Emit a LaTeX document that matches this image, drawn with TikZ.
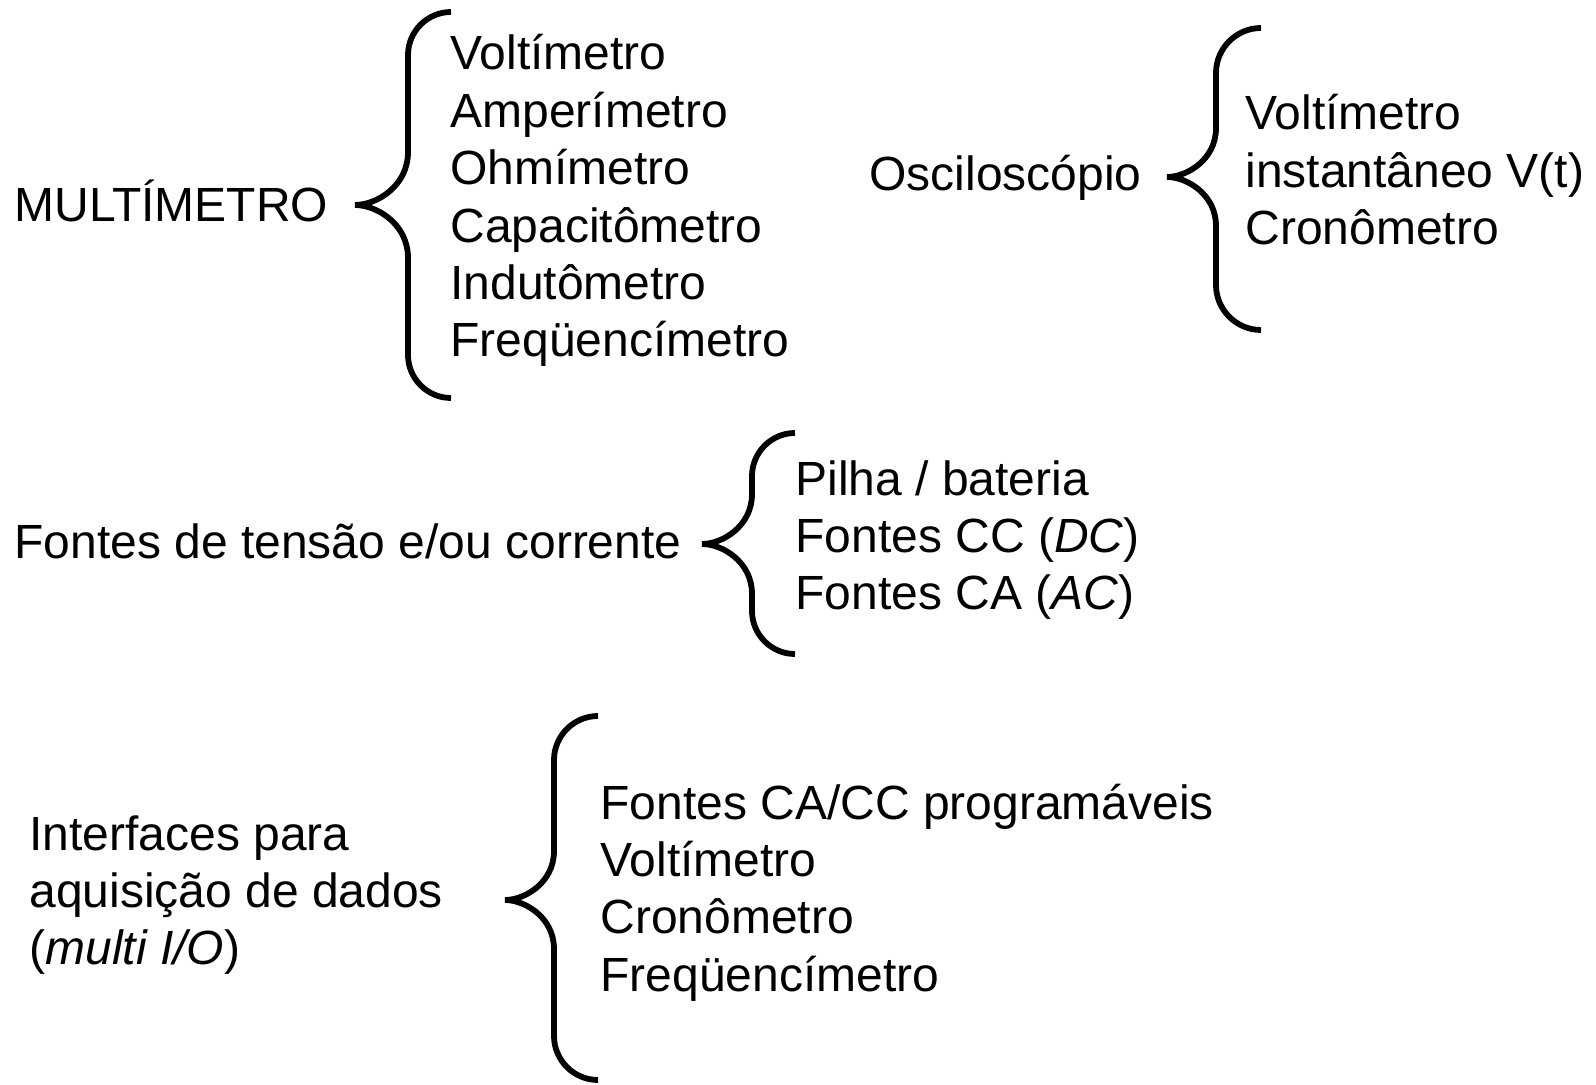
\documentclass[tikz,border=0pt]{standalone}
\usepackage{fontspec}
\setmainfont{Liberation Sans}
\usepackage{tikz}

% #1 tip x, #2 tip y, #3 spine x, #4 end x, #5 top y, #6 bottom y
\newcommand{\curlybrace}[6]{%
  \draw[brace] (#4,#5) .. controls ({#3+0.45*(#4-#3)},#5) and (#3,{#5+0.45*(#4-#3)}) .. (#3,{#5+(#4-#3)})
    -- (#3,{#2-(#3-#1)}) .. controls (#3,{#2-0.35*(#3-#1)}) and ({#1+0.4*(#3-#1)},#2) .. (#1,#2)
    .. controls ({#1+0.4*(#3-#1)},#2) and (#3,{#2+0.35*(#3-#1)}) .. (#3,{#2+(#3-#1)})
    -- (#3,{#6-(#4-#3)}) .. controls (#3,{#6-0.45*(#4-#3)}) and ({#3+0.45*(#4-#3)},#6) .. (#4,#6);}

\begin{document}
\begin{tikzpicture}[x=0.5pt, y=-0.5pt,
    txt/.style={anchor=base west, inner sep=0pt, font=\fontsize{24}{28}\selectfont},
    brace/.style={line width=2.9pt}]
  \useasboundingbox (0,0) rectangle (1596,1085);

  % multimetro
  \node[txt] (M) at (14,222) {MULTÍMETRO};
  \curlybrace{355}{205}{408}{451}{12}{398}
  \foreach \t [count=\i] in {Voltímetro, Amperímetro, Ohmímetro, Capacitômetro, Indutômetro, Freqüencímetro}
    \node[txt] (M\i) at (450,{70+57.4*(\i-1)}) {\t};

  % osciloscopio
  \node[txt] (O) at (869,191) {Osciloscópio};
  \curlybrace{1167}{177}{1216}{1261}{28}{330}
  \foreach \t [count=\i] in {Voltímetro, instantâneo V(t), Cronômetro}
    \node[txt] (O\i) at (1245,{130+57.4*(\i-1)}) {\t};

  % fontes
  \node[txt] (F) at (14,559) {Fontes de tensão e/ou corrente};
  \curlybrace{702}{544}{752}{795}{433}{654}
  \foreach \t [count=\i] in {Pilha / bateria, Fontes CC (\textit{DC}), Fontes CA (\textit{AC})}
    \node[txt] (F\i) at (795,{495+57.4*(\i-1)}) {\t};

  % interfaces
  \foreach \t [count=\i] in {Interfaces para, aquisição de dados, (\textit{multi I/O})}
    \node[txt] (I\i) at (29,{850+57.4*(\i-1)}) {\t};
  \curlybrace{505}{900}{554}{598}{716}{1080}
  \foreach \t [count=\i] in {Fontes CA/CC programáveis, Voltímetro, Cronômetro, Freqüencímetro}
    \node[txt] (D\i) at (600,{819+57.4*(\i-1)}) {\t};
\end{tikzpicture}
\end{document}
